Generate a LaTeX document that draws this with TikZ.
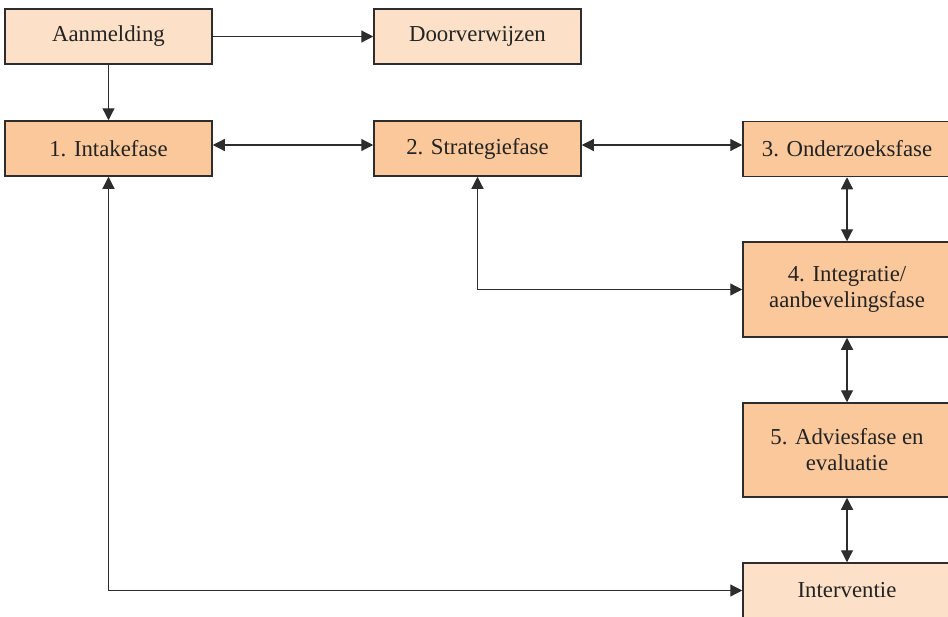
\documentclass[tikz,border=0pt]{standalone}
\usepackage{fontspec}
\setmainfont{Liberation Serif}
\usetikzlibrary{arrows.meta}
\definecolor{lightbox}{RGB}{252,224,199}
\definecolor{darkbox}{RGB}{251,200,155}
\definecolor{edge}{RGB}{45,45,45}
\definecolor{txt}{RGB}{35,35,35}
\tikzset{
  box/.style={draw=edge, line width=1.5pt, minimum width=207pt, minimum height=55pt,
    inner sep=0pt, align=center, text=txt, font=\fontsize{22.8}{26}\selectfont},
  lightfill/.style={box, fill=lightbox},
  darkfill/.style={box, fill=darkbox},
  conn/.style={draw=edge, line width=1.2pt, -{Triangle[length=12pt,width=12pt]}},
  biconn/.style={draw=edge, line width=1.2pt, {Triangle[length=12pt,width=12pt]}-{Triangle[length=12pt,width=12pt]}}
}
\begin{document}
\begin{tikzpicture}[x=1pt,y=-1pt]
\useasboundingbox (0,0) rectangle (948,616);
\clip (0,0) rectangle (948,616);
\node[lightfill] (aan) at (108.5,36.5) {Aanmelding};
\node[lightfill] (door) at (477.5,36.5) {Doorverwijzen};
\node[darkfill] (intake) at (108.5,148.5) {1. Intakefase};
\node[darkfill] (strat) at (477.5,148.5) {2. Strategiefase};
\node[darkfill, fill=darkbox, minimum width=208pt] (onder) at (847,149) {3. Onderzoeksfase};
\node[darkfill, minimum width=208pt, minimum height=95pt] (integ) at (847,289.5) {4. Integratie/\\aanbevelingsfase};
\node[darkfill, minimum width=208pt, minimum height=94pt] (advies) at (847,450) {5. Adviesfase en\\evaluatie};
\node[lightfill, minimum width=208pt] (interv) at (847,590.5) {Interventie};

\draw[conn] (aan) -- (intake);
\draw[conn] (aan) -- (door);
\draw[biconn] (intake.east) ++(0,-3.5) coordinate (ie) -- (ie -| strat.west);
\draw[biconn] (strat.east) ++(0,-3.5) coordinate (se) -- (se -| onder.west);
\draw[biconn] (onder) -- (integ);
\draw[biconn] (integ) -- (advies);
\draw[biconn] (advies) -- (interv);
\draw[biconn] (strat.south) |- (integ.west);
\draw[biconn] (intake.south) |- (interv.west);
\end{tikzpicture}
\end{document}
